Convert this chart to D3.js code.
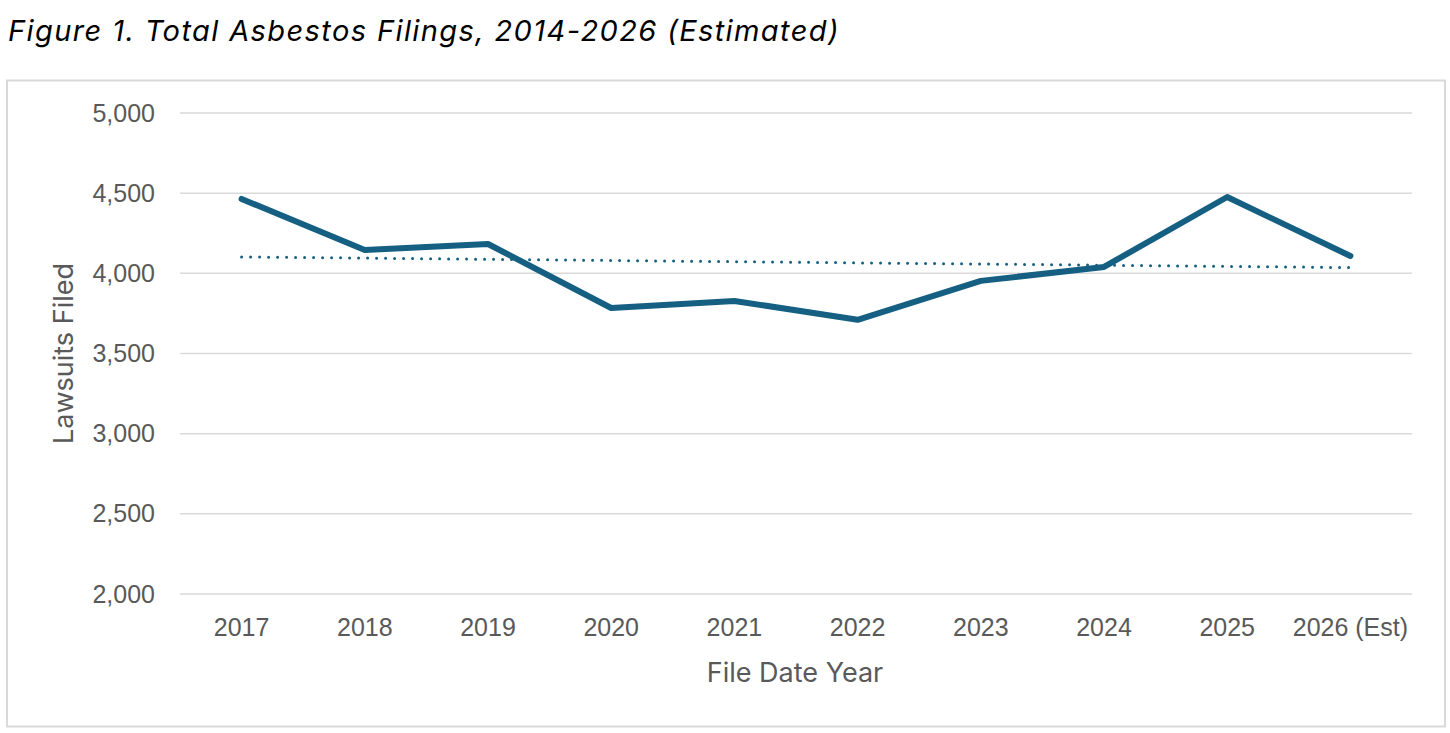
<!DOCTYPE html>
<html>
<head>
<meta charset="utf-8">
<script src="https://cdn.jsdelivr.net/npm/d3@7"></script>
<style>
  body { margin: 0; background: #fff; }
  svg { display: block; }
</style>
</head>
<body>
<svg id="chart" width="1450" height="733"></svg>
<script>
const years = ["2017", "2018", "2019", "2020", "2021", "2022", "2023", "2024", "2025", "2026 (Est)"];
const filings = [4464, 4146, 4183, 3784, 3828, 3710, 3953, 4040, 4476, 4108];
const yTicks = [2000, 2500, 3000, 3500, 4000, 4500, 5000];

const svg = d3.select("#chart");
const width = 1450, height = 733;
const margin = {left: 180, right: 38, top: 113, bottom: 139};

const lineColor = "#156082";
const textColor = "#595959";
const tickFont = "'Liberation Sans', Arial, sans-serif";
const titleFont = "Inter, 'Noto Sans', sans-serif";

// title
svg.append("text")
    .attr("x", 8)
    .attr("y", 41)
    .attr("font-family", titleFont)
    .attr("font-style", "italic")
    .attr("font-size", 29)
    .attr("letter-spacing", 1.4)
    .attr("fill", "#000")
    .text("Figure 1. Total Asbestos Filings, 2014-2026 (Estimated)");

// chart frame
svg.append("rect")
    .attr("x", 7)
    .attr("y", 80.5)
    .attr("width", 1438)
    .attr("height", 646)
    .attr("fill", "#fff")
    .attr("stroke", "#d9d9d9")
    .attr("stroke-width", 2);

let x = d3.scaleBand()
    .domain(years)
    .range([margin.left, width - margin.right]);

let y = d3.scaleLinear()
    .domain([2000, 5000])
    .range([height - margin.bottom, margin.top]);

// gridlines
svg.append("g")
    .selectAll("line")
    .data(yTicks)
    .join("line")
    .attr("x1", margin.left)
    .attr("x2", width - margin.right)
    .attr("y1", d => y(d))
    .attr("y2", d => y(d))
    .attr("stroke", "#d9d9d9")
    .attr("stroke-width", 1.5);

// y axis
let yAxis = d3.axisLeft(y)
    .tickValues(yTicks)
    .tickFormat(d3.format(","))
    .tickSize(0)
    .tickPadding(25);

svg.append("g")
    .attr("transform", `translate(${margin.left},0)`)
    .call(yAxis)
    .call(g => g.select(".domain").remove())
    .selectAll("text")
    .attr("font-family", tickFont)
    .attr("font-size", 25)
    .attr("fill", textColor);

// x axis
let xAxis = d3.axisBottom(x)
    .tickSize(0)
    .tickPadding(24);

svg.append("g")
    .attr("transform", `translate(0,${height - margin.bottom})`)
    .call(xAxis)
    .call(g => g.select(".domain").remove())
    .selectAll("text")
    .attr("font-family", tickFont)
    .attr("font-size", 25)
    .attr("fill", textColor);

// axis titles
svg.append("text")
    .attr("x", x.range()[0] + (x.range()[1] - x.range()[0]) / 2 - 1)
    .attr("y", 682)
    .attr("text-anchor", "middle")
    .attr("font-family", titleFont)
    .attr("font-size", 27)
    .attr("fill", textColor)
    .text("File Date Year");

svg.append("text")
    .attr("transform", `translate(73,${y(3500)}) rotate(-90)`)
    .attr("text-anchor", "middle")
    .attr("font-family", titleFont)
    .attr("font-size", 27)
    .attr("fill", textColor)
    .text("Lawsuits Filed");

// linear trendline (least squares over the category index)
let n = filings.length;
let mx = d3.mean(filings, (d, i) => i);
let my = d3.mean(filings);
let sxy = d3.sum(filings, (d, i) => (i - mx) * (d - my));
let sxx = d3.sum(filings, (d, i) => (i - mx) * (i - mx));
let slope = sxy / sxx;
let intercept = my - slope * mx;
let trend = [0, n - 1].map(i => ({i: i, v: intercept + slope * i}));

svg.append("path")
    .datum(trend)
    .attr("fill", "none")
    .attr("stroke", lineColor)
    .attr("stroke-width", 3)
    .attr("stroke-linecap", "round")
    .attr("stroke-dasharray", "0 9")
    .attr("d", d3.line()
        .x(d => x(years[d.i]) + x.bandwidth() / 2)
        .y(d => y(d.v)));

// main series
svg.append("path")
    .datum(filings)
    .attr("fill", "none")
    .attr("stroke", lineColor)
    .attr("stroke-width", 6)
    .attr("stroke-linecap", "round")
    .attr("stroke-linejoin", "round")
    .attr("d", d3.line()
        .x((d, i) => x(years[i]) + x.bandwidth() / 2)
        .y(d => y(d)));
</script>
</body>
</html>
